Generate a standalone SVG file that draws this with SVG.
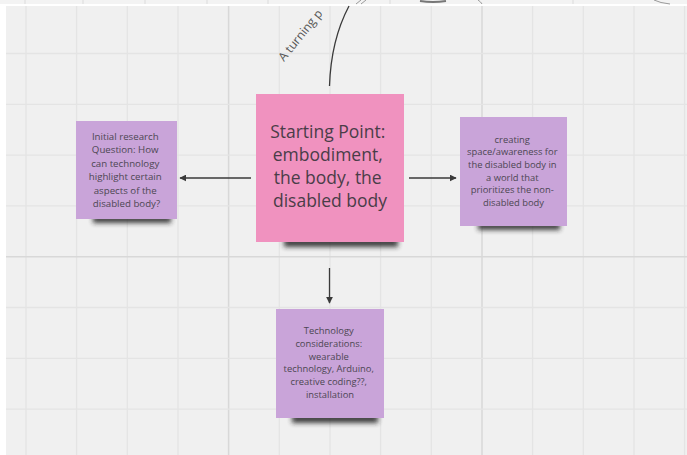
<svg xmlns="http://www.w3.org/2000/svg" width="687" height="455" viewBox="0 0 687 455">
  <defs>
    <style>
      .minor { stroke: #e4e4e4; stroke-width: 1.3; }
      .major { stroke: #d8d8d8; stroke-width: 1.5; }
      .conn { stroke: #3a3a3a; stroke-width: 1.3; fill: none; }
      .sn { font-family: "Open Sans", "Liberation Sans", sans-serif; text-anchor: middle; fill: #4d4753; }
      .big { font-size: 17.5px; fill: #4a3d48; }
      .small { font-size: 9.4px; }
      .lbl { font-family: "Open Sans", "Liberation Sans", sans-serif; font-size: 12px; fill: #555; }
      .pink { fill: #f092bf; }
      .purple { fill: #c9a4d9; }
      .shadow { fill: #222; opacity: 0.85; filter: url(#blur); }
    </style>
    <filter id="blur" x="-20%" y="-200%" width="140%" height="500%">
      <feGaussianBlur stdDeviation="2.6"/>
    </filter>
    <marker id="arrow" viewBox="0 0 10 10" refX="9" refY="5" markerWidth="7" markerHeight="7" markerUnits="userSpaceOnUse" orient="auto">
      <path d="M0,0 L10,5 L0,10 z" fill="#3a3a3a"/>
    </marker>
    <clipPath id="canvas">
      <rect x="6" y="6" width="681" height="449"/>
    </clipPath>
  </defs>

  <!-- page background -->
  <rect x="0" y="0" width="687" height="455" fill="#ffffff"/>
  <!-- top strip -->
  <rect x="0" y="0" width="687" height="4" fill="#f3f3f3"/>
  <g stroke="#e0e0e0" stroke-width="1.2">
    <line x1="25" y1="0" x2="25" y2="4"/>
    <line x1="83" y1="0" x2="83" y2="4"/>
    <line x1="145" y1="0" x2="145" y2="4"/>
    <line x1="207" y1="0" x2="207" y2="4"/>
    <line x1="268" y1="0" x2="268" y2="4"/>
    <line x1="390" y1="0" x2="390" y2="4"/>
    <line x1="573" y1="0" x2="573" y2="4"/>
  </g>
  <g stroke="#9a9a9a" stroke-width="1" fill="none">
    <path d="M356,4 L361,0 M361,4 L366,0"/>
    <path d="M420,1 Q433,3 446,1" stroke="#777" stroke-width="2"/>
    <path d="M478,0 Q481,2 482,4"/>
    <path d="M654,0 Q660,3 670,4"/>
  </g>

  <!-- canvas -->
  <rect x="6" y="6" width="681" height="449" fill="#f0f0f0"/>
  <g clip-path="url(#canvas)">
    <g id="grid">
      <line class="minor" x1="26" y1="0" x2="26" y2="455"/>
      <line class="minor" x1="76.6" y1="0" x2="76.6" y2="455"/>
      <line class="minor" x1="127.3" y1="0" x2="127.3" y2="455"/>
      <line class="minor" x1="178" y1="0" x2="178" y2="455"/>
      <line class="major" x1="228.6" y1="0" x2="228.6" y2="455"/>
      <line class="minor" x1="279.3" y1="0" x2="279.3" y2="455"/>
      <line class="minor" x1="330" y1="0" x2="330" y2="455"/>
      <line class="minor" x1="380.6" y1="0" x2="380.6" y2="455"/>
      <line class="minor" x1="431.3" y1="0" x2="431.3" y2="455"/>
      <line class="major" x1="482" y1="0" x2="482" y2="455"/>
      <line class="minor" x1="532.6" y1="0" x2="532.6" y2="455"/>
      <line class="minor" x1="583.3" y1="0" x2="583.3" y2="455"/>
      <line class="minor" x1="634" y1="0" x2="634" y2="455"/>
      <line class="minor" x1="684.6" y1="0" x2="684.6" y2="455"/>
      <line class="minor" x1="0" y1="53.5" x2="687" y2="53.5"/>
      <line class="minor" x1="0" y1="104.3" x2="687" y2="104.3"/>
      <line class="minor" x1="0" y1="155.1" x2="687" y2="155.1"/>
      <line class="minor" x1="0" y1="205.9" x2="687" y2="205.9"/>
      <line class="major" x1="0" y1="256.7" x2="687" y2="256.7"/>
      <line class="minor" x1="0" y1="307.5" x2="687" y2="307.5"/>
      <line class="minor" x1="0" y1="358.3" x2="687" y2="358.3"/>
      <line class="minor" x1="0" y1="409.1" x2="687" y2="409.1"/>
    </g>

    <!-- partial label at top -->
    <text class="lbl" transform="translate(284,62) rotate(-51)">A turning p</text>
  </g>

  <!-- connectors -->
  <g id="connectors">
    <path class="conn" d="M329.5,86 Q331,40 349,6"/>
    <line class="conn" x1="251" y1="178" x2="180" y2="178" marker-end="url(#arrow)"/>
    <line class="conn" x1="409" y1="178" x2="456" y2="178" marker-end="url(#arrow)"/>
    <line class="conn" x1="329.5" y1="268" x2="329.5" y2="303" marker-end="url(#arrow)"/>
  </g>

  <!-- nodes -->
  <g id="starting-point">
    <rect class="shadow" x="284" y="238" width="114" height="9"/>
    <rect class="pink" x="256" y="94" width="148" height="148"/>
    <text class="sn big">
      <tspan x="330" y="138">Starting Point:</tspan>
      <tspan x="330" y="161">embodiment,</tspan>
      <tspan x="330" y="184">the body, the</tspan>
      <tspan x="330" y="207">disabled body</tspan>
    </text>
  </g>

  <g id="research-question">
    <rect class="shadow" x="93" y="215" width="78" height="8"/>
    <rect class="purple" x="76" y="121" width="101" height="98"/>
    <text class="sn small" style="font-size:9.7px">
      <tspan x="126.5" y="139.5">Initial research</tspan>
      <tspan x="126.5" y="153">Question: How</tspan>
      <tspan x="126.5" y="166.5">can technology</tspan>
      <tspan x="126.5" y="180">highlight certain</tspan>
      <tspan x="126.5" y="193.5">aspects of the</tspan>
      <tspan x="126.5" y="207">disabled body?</tspan>
    </text>
  </g>

  <g id="creating-space">
    <rect class="shadow" x="478" y="222" width="82" height="8"/>
    <rect class="purple" x="460" y="117" width="107" height="109"/>
    <text class="sn small">
      <tspan x="513.5" y="142.5">creating</tspan>
      <tspan x="513.5" y="155.2">space/awareness for</tspan>
      <tspan x="513.5" y="167.9">the disabled body in</tspan>
      <tspan x="513.5" y="180.6">a world that</tspan>
      <tspan x="513.5" y="193.3">prioritizes the non-</tspan>
      <tspan x="513.5" y="206">disabled body</tspan>
    </text>
  </g>

  <g id="technology-considerations">
    <rect class="shadow" x="292" y="414" width="86" height="9"/>
    <rect class="purple" x="276" y="309" width="108" height="109"/>
    <text class="sn small">
      <tspan x="330" y="334.2">Technology</tspan>
      <tspan x="330" y="346.9">considerations:</tspan>
      <tspan x="330" y="359.6">wearable</tspan>
      <tspan x="330" y="372.3">technology, Arduino,</tspan>
      <tspan x="330" y="385">creative coding??,</tspan>
      <tspan x="330" y="397.7">installation</tspan>
    </text>
  </g>
</svg>
